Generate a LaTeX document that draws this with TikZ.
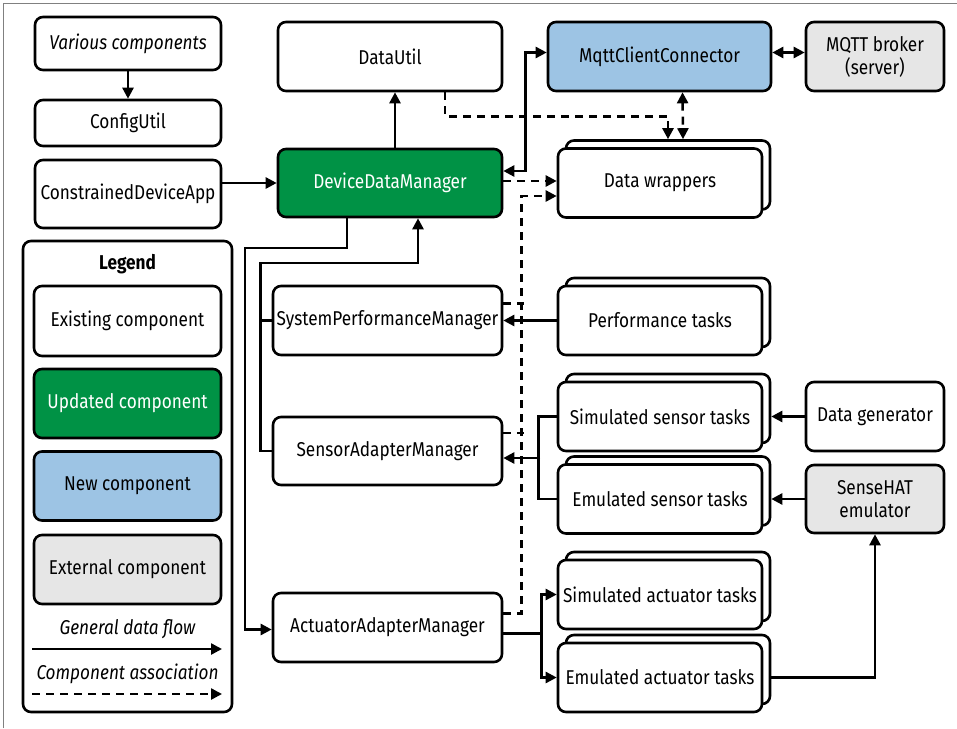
\documentclass[tikz,border=0pt]{standalone}
\usepackage{fontspec}
\setmainfont[FakeStretch=0.86]{Fira Sans}
\usetikzlibrary{arrows.meta,shadows}

\definecolor{updgreen}{RGB}{0,146,69}
\definecolor{newblue}{RGB}{157,196,228}
\definecolor{extgray}{RGB}{230,230,230}
\newcommand\diagfont{\fontsize{20}{23}\selectfont}

\begin{document}
\begin{tikzpicture}[x=1pt,y=-1pt,
  box/.style={draw,line width=2.6pt,rounded corners=8pt,fill=white,
    align=center,inner sep=2pt,font=\diagfont},
  stack/.style={box,copy shadow={shadow xshift=8pt,shadow yshift=8pt}},
  flow/.style={line width=2.5pt,-{Triangle[length=11pt,width=11pt]}},
  twoway/.style={line width=2.5pt,{Triangle[length=11pt,width=11pt]}-{Triangle[length=11pt,width=11pt]}},
  assoc/.style={flow,dash pattern=on 8pt off 6pt},
  assocdash/.style={line width=2.5pt,dash pattern=on 8pt off 6pt},
  wire/.style={line width=2.5pt}
]
  \useasboundingbox (0,0) rectangle (957,728);
  \draw[gray,line width=0.8pt] (3,728) -- (3,3) -- (957,3);

  % left column
  \node[box,minimum width=186pt,minimum height=53pt,font=\diagfont\itshape] (various) at (128,43.5) {Various components};
  \node[box,minimum width=186pt,minimum height=46pt] (config) at (128,123) {ConfigUtil};
  \node[box,minimum width=186pt,minimum height=68pt] (cda) at (128,194) {ConstrainedDeviceApp};

  % legend
  \node[box,minimum width=209pt,minimum height=471pt] (legend) at (127.5,476.5) {};
  \node[font=\diagfont\bfseries] (legendtitle) at (127.5,264) {Legend};
  \node[box,minimum width=187pt,minimum height=70pt] (existing) at (127.5,321) {Existing component};
  \node[box,minimum width=187pt,minimum height=69pt,fill=updgreen,text=white] (updated) at (127.5,403.5) {Updated component};
  \node[box,minimum width=187pt,minimum height=69pt,fill=newblue] (newcomp) at (127.5,486) {New component};
  \node[box,minimum width=187pt,minimum height=69pt,fill=extgray] (external) at (127.5,569.5) {External component};
  \node[font=\diagfont\itshape] (flowtext) at (127.5,629) {General data flow};
  \node[font=\diagfont\itshape] (assoctext) at (127.5,674) {Component association};
  \coordinate (flowA) at (32,649);
  \coordinate (flowB) at (222,649);
  \coordinate (assocA) at (32,694);
  \coordinate (assocB) at (222,694);
  \draw[flow] (flowA) -- (flowB);
  \draw[assoc] (assocA) -- (assocB);

  % managers
  \node[box,minimum width=224pt,minimum height=69pt] (datautil) at (390,56.5) {DataUtil};
  \node[box,minimum width=224pt,minimum height=68pt,fill=updgreen,text=white] (ddm) at (390,183) {DeviceDataManager};
  \node[box,minimum width=229pt,minimum height=69pt] (spm) at (387.5,320.5) {SystemPerformanceManager};
  \node[box,minimum width=229pt,minimum height=68pt] (sam) at (387.5,451) {SensorAdapterManager};
  \node[box,minimum width=229pt,minimum height=69pt] (aam) at (387.5,627.5) {ActuatorAdapterManager};

  % connection and tasks
  \node[box,minimum width=223pt,minimum height=69pt,fill=newblue] (mqtt) at (659.5,56.5) {MqttClientConnector};
  \node[box,minimum width=138pt,minimum height=69pt,fill=extgray] (broker) at (875,56.5) {MQTT broker\\(server)};
  \foreach \name/\y/\txt in {wrappers/183/Data wrappers,
      perf/320.5/Performance tasks,
      simsens/416.5/Simulated sensor tasks,
      emusens/499/Emulated sensor tasks,
      simact/594.5/Simulated actuator tasks,
      emuact/677.5/Emulated actuator tasks} {
    \node[stack,minimum width=204pt,minimum height=69pt] (\name) at (660,\y) {\txt};
  }
  \node[box,minimum width=138pt,minimum height=69pt] (datagen) at (875,416.5) {Data generator};
  \node[box,minimum width=138pt,minimum height=68pt,fill=extgray] (sensehat) at (875,499) {SenseHAT\\emulator};

  % data flow
  \draw[flow] (various) -- (config);
  \draw[flow] (cda.east |- ddm.west) -- (ddm.west);
  \draw[flow] ([xshift=5pt]ddm.north) -- ([xshift=5pt]datautil.south);
  \draw[twoway] ([yshift=12pt]ddm.east) -| ([xshift=-21pt,yshift=4pt]mqtt.west) -- ([yshift=4pt]mqtt.west);
  \draw[twoway] ([yshift=4pt]mqtt.east) -- ([yshift=4pt]broker.west);
  \coordinate (busA) at (245,248);
  \coordinate (busB) at (262,263);
  \draw[flow] ([xshift=-43pt]ddm.south) |- (busA) |- ([yshift=-2pt]aam.west);
  \draw[flow] (sam.west) -- ++(-11,0) |- (busB) -| ([xshift=28pt]ddm.south);
  \draw[wire] (spm.west) -- ++(-11,0);
  \draw[flow] (perf.west) -- (spm.east);

  % sensors and actuators
  \coordinate (sensjoin) at (540,458);
  \draw[wire] (simsens.west) -- ++(-18,0) |- (emusens.west);
  \draw[flow] (sensjoin) -- (sensjoin -| sam.east);
  \draw[flow] ([yshift=-6pt]aam.east) -- ++(38,0) |- (simact.west);
  \draw[flow] ([yshift=-6pt]aam.east) -- ++(38,0) |- (emuact.west);
  \draw[flow] (datagen.west) -- ([xshift=8pt]simsens.east);
  \draw[flow] (sensehat.west) -- ([xshift=8pt]emusens.east);
  \draw[flow] ([xshift=8pt]emuact.east) -| (sensehat.south);

  % component associations
  \draw[assoc] ([xshift=55pt]datautil.south) -- ++(0,24) -| ([xshift=8pt,yshift=8pt]wrappers.north);
  \draw[assocdash,{Triangle[length=11pt,width=11pt]}-{Triangle[length=11pt,width=11pt]}] ([xshift=23pt]mqtt.south) -- ([xshift=23pt,yshift=8pt]wrappers.north);
  \draw[assoc] ([yshift=2pt]ddm.east) -- ([yshift=2pt]wrappers.west);
  \draw[assoc] ([yshift=14pt]aam.east) -| ([xshift=-35pt,yshift=-13pt]wrappers.west) -- ([yshift=-13pt]wrappers.west);
  \draw[assocdash] ([yshift=17pt]spm.east) -- ++(21,0);
  \draw[assocdash] ([yshift=18pt]sam.east) -- ++(21,0);
\end{tikzpicture}
\end{document}
